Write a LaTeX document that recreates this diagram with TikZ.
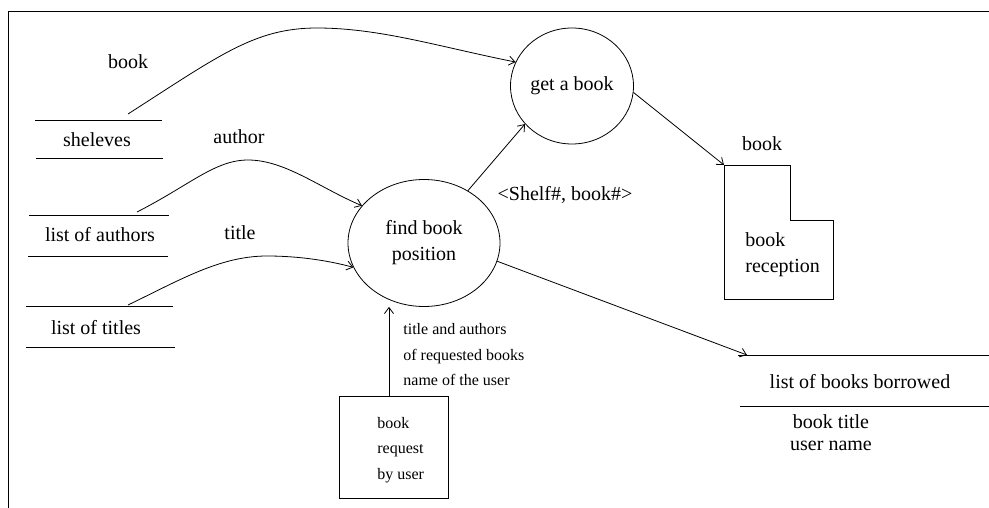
\documentclass[tikz,border=0pt]{standalone}
\usepackage{fontspec}
\newfontfamily\tms{Liberation Serif}
\usetikzlibrary{shapes.geometric,arrows.meta}
\begin{document}
\begin{tikzpicture}[x=1pt,y=-1pt,line width=0.8pt,
  big/.style={font=\tms\fontsize{20}{26}\selectfont, inner sep=0pt},
  small/.style={font=\tms\fontsize{16}{25.5}\selectfont, inner sep=0pt},
  proc/.style={ellipse, draw, inner sep=0pt, big, align=center},
  flow/.style={-{Straight Barb[length=6pt,width=9pt]}},
  storeline/.style={line width=0.8pt}]
\useasboundingbox (0,0) rectangle (989,508);
% frame
\draw (8,508) -- (8,11) -- (989,11);
% processes
\node[proc, minimum width=123pt, minimum height=116pt] (get) at (572,86) {get a book};
\node[proc, minimum width=152pt, minimum height=127pt] (find) at (424,243) {find book\\position};
% data stores
\node[big] (shelves) at (97,140) {sheleves};
\draw[storeline] (35,120) -- (162,120) (36,158) -- (163,158);
\node[big] (authors) at (100,235) {list of authors};
\draw[storeline] (29,215) -- (169,215) (28,256) -- (168,256);
\node[big] (titles) at (96,328) {list of titles};
\draw[storeline] (26,306) -- (173,306) (26,347) -- (175,347);
\node[big] (borrowed) at (860,382) {list of books borrowed};
\draw[storeline] (738,355) -- (989,355) (740,406) -- (989,406);
\coordinate (btop) at (747,355);
\node[big, align=center, font=\tms\fontsize{20}{22}\selectfont] (fields) at (831,433) {book title\\user name};
% external entity
\node[draw, minimum width=109pt, minimum height=102pt] (reqbox) at (393.5,447) {};
\node[small, align=left, anchor=west] (reqtext) at (377,450) {book\\request\\by user};
% book reception (L-shaped)
\coordinate (rec) at (724,165);
\draw (rec) -- (790,165) -- (790,220) -- (833,220) -- (833,299) -- (724,299) -- cycle;
\node[big, align=left, anchor=west] (rectext) at (745,255) {book\\reception};
% curve starts
\coordinate (s1) at (128,114);
\coordinate (s2) at (137,212);
\coordinate (s3) at (128,305);
% flows
\draw[flow] (s1) .. controls (220,55) and (255,28) .. (317,28) .. controls (380,28) and (440,47) .. (get.157);
\draw[flow] (s2) .. controls (190,185) and (215,160) .. (248,160) .. controls (285,160) and (320,188) .. (find.149);
\draw[flow] (s3) .. controls (180,280) and (220,256) .. (267,256) .. controls (300,256) and (330,261) .. (find.199);
\draw[flow] (find.50) -- (get.219);
\draw[flow] (get.354) -- (rec);
\draw[flow] (find.346) -- (btop);
\draw[flow] ([xshift=-4.5pt]reqbox.north) -- ([xshift=-4.5pt]reqbox.north |- find.south);
% labels
\node[big] (l1) at (128,62) {book};
\node[big] (l2) at (239,137) {author};
\node[big] (l3) at (240,233) {title};
\node[big] (l4) at (565,195) {<Shelf\#, book\#>};
\node[big] (l5) at (762,144) {book};
\node[small, align=left, anchor=west] (l6) at (403,355) {title and authors\\of requested books\\name of the user};
\end{tikzpicture}
\end{document}
